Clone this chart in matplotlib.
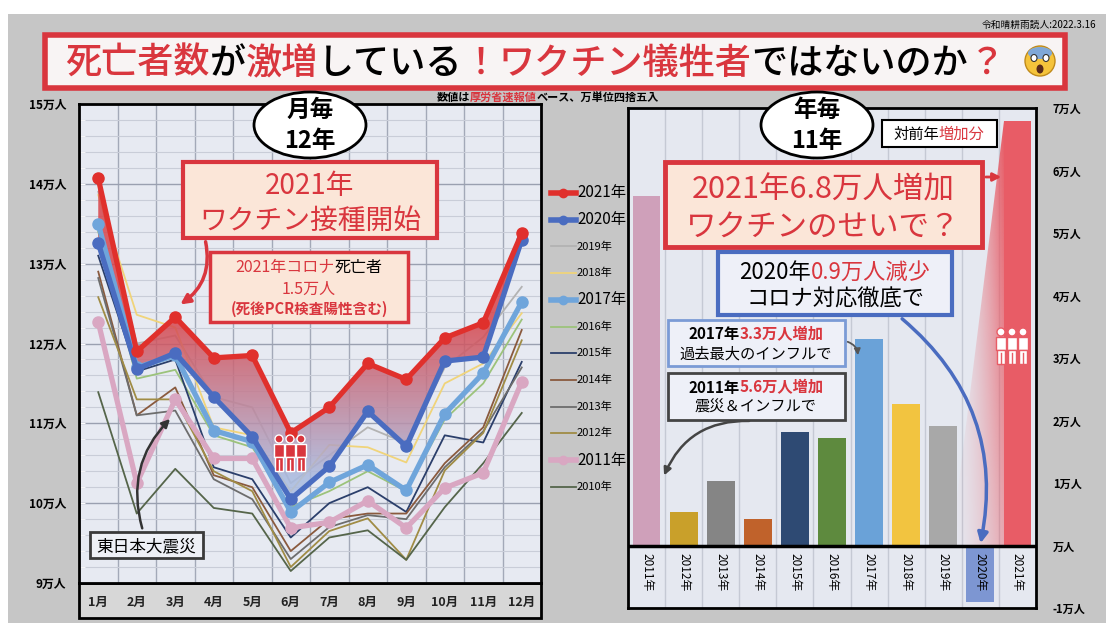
import numpy as np
import matplotlib.pyplot as plt
from matplotlib.patches import Rectangle, Ellipse, Polygon
from matplotlib.lines import Line2D
from matplotlib.colors import to_rgb

plt.rcParams['font.family'] = ['Noto Sans CJK JP', 'DejaVu Sans']

W, H = 1114, 635
RED = '#d9363e'
BLUE = '#4a6cc0'

# 月別死亡者数 (万人)
months = ['1月', '2月', '3月', '4月', '5月', '6月', '7月', '8月', '9月', '10月', '11月', '12月']
d2021 = [14.07, 11.90, 12.33, 11.82, 11.85, 10.88, 11.20, 11.75, 11.55, 12.07, 12.26, 13.38]
d2020 = [13.26, 11.68, 11.88, 11.33, 10.83, 10.05, 10.46, 11.15, 10.71, 11.78, 11.83, 13.30]
d2019 = [13.90, 12.00, 12.10, 11.33, 11.20, 10.25, 10.60, 10.95, 10.75, 11.70, 12.08, 12.71]
d2018 = [13.86, 12.36, 12.20, 10.95, 10.85, 10.15, 10.73, 10.70, 10.51, 11.50, 11.75, 12.38]
d2017 = [13.50, 11.70, 11.85, 10.91, 10.77, 9.89, 10.26, 10.48, 10.16, 11.12, 11.63, 12.52]
d2016 = [13.40, 11.56, 11.67, 10.85, 10.70, 9.95, 10.15, 10.40, 10.15, 11.05, 11.50, 12.30]
d2015 = [13.10, 11.65, 11.80, 10.45, 10.30, 9.57, 10.00, 10.20, 9.89, 10.85, 10.76, 11.77]
d2014 = [12.90, 11.10, 11.45, 10.35, 10.20, 9.40, 9.80, 9.87, 9.87, 10.50, 10.95, 12.17]
d2013 = [12.82, 11.10, 11.16, 10.30, 10.05, 9.30, 9.70, 9.85, 9.80, 10.45, 10.90, 11.70]
d2012 = [12.58, 11.30, 11.30, 10.40, 10.15, 9.20, 9.65, 9.81, 9.29, 10.41, 10.88, 12.04]
d2011 = [12.27, 10.25, 11.30, 10.56, 10.56, 9.69, 9.76, 10.03, 9.69, 10.19, 10.38, 11.52]
d2010 = [11.39, 9.87, 10.43, 9.94, 9.87, 9.15, 9.57, 9.66, 9.29, 9.95, 10.50, 11.13]
left_ticks = [9, 10, 11, 12, 13, 14, 15]

# 対前年増加分 (万人)
bar_years = ['2011年', '2012年', '2013年', '2014年', '2015年', '2016年',
             '2017年', '2018年', '2019年', '2020年', '2021年']
increase = [5.6, 0.53, 1.04, 0.43, 1.81, 1.72, 3.3, 2.26, 1.91, -0.9, 6.8]
bar_colors = ['#cfa0ba', '#c9a02a', '#858585', '#c0622b', '#2e4a73', '#5e8a3e',
              '#6aa2d8', '#f2c440', '#a8a8a8', '#7d96d2', '#e85c66']
right_ticks = [-1, 0, 1, 2, 3, 4, 5, 6, 7]
right_labels = ['-1万人', '万人', '1万人', '2万人', '3万人', '4万人', '5万人', '6万人', '7万人']


def fx(x):
    return x / W


def fy(y):
    return 1 - y / H


fig = plt.figure(figsize=(W / 100, H / 100), dpi=100)
fig.patch.set_facecolor('white')
renderer = fig.canvas.get_renderer()


def box(x0, y0, x1, y1, fc, ec, lw, z=4):
    fig.add_artist(Rectangle((fx(x0), fy(y1)), (x1 - x0) / W, (y1 - y0) / H,
                             transform=fig.transFigure, fc=fc, ec=ec, lw=lw, zorder=z))


def rich(xc, yc, parts, size, weight='normal', ha='center'):
    base = yc + 0.36 * size * 100 / 72
    ts = [fig.text(0, fy(base), s, color=c, fontsize=size, fontweight=weight,
                   va='baseline', ha='left', zorder=8) for s, c in parts]
    ws = [t.get_window_extent(renderer).width for t in ts]
    x = xc - sum(ws) / 2 if ha == 'center' else xc
    for t, w in zip(ts, ws):
        t.set_x(x / W)
        x += w


def people(cx, cy, face, edge, s=1.0):
    for dx in (-11, 0, 11):
        x = cx + dx * s
        fig.add_artist(Ellipse((fx(x), fy(cy - 13 * s)), 8 * s / W, 8 * s / H,
                               transform=fig.transFigure, fc=face, ec=edge, lw=1, zorder=7))
        box(x - 5 * s, cy - 8 * s, x + 5 * s, cy + 5 * s, face, edge, 1, z=7)
        box(x - 4 * s, cy + 5 * s, x + 4 * s, cy + 19 * s, face, edge, 1, z=7)
        fig.add_artist(Line2D([fx(x), fx(x)], [fy(cy + 8 * s), fy(cy + 19 * s)],
                              transform=fig.transFigure, color=edge, lw=1, zorder=7))


# 背景
box(8, 14, 1106, 623, '#c6c6c6', 'none', 0, z=-2)

# ---------------- 左: 月毎 ----------------
ax1 = fig.add_axes([fx(79), fy(583), (541 - 79) / W, (583 - 104) / H])
ax1.set_facecolor('#e7eaf2')
x = np.arange(1, 13)
ax1.set_xlim(0.5, 12.5)
ax1.set_ylim(9, 15)
ax1.set_yticks(left_ticks)
ax1.set_yticklabels([f'{v}万人' for v in left_ticks], fontsize=8.5, fontweight='bold')
ax1.set_yticks(np.arange(9, 15.01, 0.2), minor=True)
ax1.grid(axis='y', which='minor', color='#c9cdd8', lw=0.8)
ax1.grid(axis='y', which='major', color='#9aa0b0', lw=1.0)
ax1.vlines(np.arange(1.5, 12.5), 9, 15, color='#a3a9b8', lw=1.0, zorder=0.5)
ax1.set_xticks(x)
ax1.set_xticklabels(months, fontsize=9, fontweight='bold', color='#222222')
ax1.tick_params(axis='x', length=0, pad=9)
ax1.tick_params(axis='y', which='both', direction='in', length=4, color='white', pad=9)
for sp in ax1.spines.values():
    sp.set_color('black')
    sp.set_linewidth(2)
box(79, 583, 541, 618, '#d7d7d7', 'black', 2, z=-1)

thin = [('2019年', d2019, '#b3b3b3'), ('2018年', d2018, '#f0d47a'),
        ('2016年', d2016, '#9cc37b'), ('2015年', d2015, '#2b3f6b'),
        ('2014年', d2014, '#8a5a3e'), ('2013年', d2013, '#6d6d6d'),
        ('2012年', d2012, '#a08c45'), ('2010年', d2010, '#55654a')]
for lab, vals, col in thin:
    ax1.plot(x, vals, color=col, lw=1.3, zorder=2)

# 2021年と2020年の間のグラデーション
poly = ax1.fill_between(x, d2021, d2020, color='none', zorder=3)
ys = np.linspace(9.9, 14.1, 200)
t = np.clip((ys - 10.3) / (12.3 - 10.3), 0, 1)[:, None]
grad = np.zeros((200, 2, 4))
grad[:, :, :3] = (np.array(to_rgb('#a9bbe0')) * (1 - t) + np.array(to_rgb('#d8444a')) * t)[:, None, :]
grad[:, :, 3] = 0.85
img = ax1.imshow(grad, extent=[1, 12, 9.9, 14.1], origin='lower', aspect='auto', zorder=3)
img.set_clip_path(poly.get_paths()[0], transform=ax1.transData)
ax1.set_xlim(0.5, 12.5)
ax1.set_ylim(9, 15)

thick = [('2011年', d2011, '#d9a7c2'), ('2017年', d2017, '#6fa5db'),
         ('2020年', d2020, '#4a6cc0'), ('2021年', d2021, '#e0302c')]
for lab, vals, col in thick:
    ax1.plot(x, vals, color=col, lw=3.8, marker='o', ms=8, zorder=4)

# 凡例
legend_rows = [('2021年', '#e0302c', True), ('2020年', '#4a6cc0', True), ('2019年', '#b3b3b3', False),
               ('2018年', '#f0d47a', False), ('2017年', '#6fa5db', True), ('2016年', '#9cc37b', False),
               ('2015年', '#2b3f6b', False), ('2014年', '#8a5a3e', False), ('2013年', '#6d6d6d', False),
               ('2012年', '#a08c45', False), ('2011年', '#d9a7c2', True), ('2010年', '#55654a', False)]
for i, (lab, col, big) in enumerate(legend_rows):
    yy = 193 + 26.7 * i
    fig.add_artist(Line2D([fx(551), fx(563), fx(576)], [fy(yy)] * 3, transform=fig.transFigure,
                          color=col, lw=4 if big else 1.3, marker='o' if big else None,
                          ms=6, markevery=[1], zorder=5))
    fig.text(fx(577), fy(yy), lab, fontsize=11 if big else 8, va='center', ha='left', zorder=5)

# 左の注釈
fig.add_artist(Ellipse((fx(310), fy(125)), 112 / W, 66 / H, transform=fig.transFigure,
                       fc='white', ec='black', lw=2, zorder=6))
rich(310, 108, [('月毎', 'black')], 17, 'bold')
rich(310, 140, [('12年', 'black')], 17, 'bold')

box(183, 162, 437, 238, '#fbe6d8', RED, 3)
rich(310, 184, [('2021年', RED)], 20)
rich(310, 219, [('ワクチン接種開始', RED)], 20)

box(210, 252, 408, 322, '#fbe6d8', RED, 2.5)
rich(309, 266, [('2021年コロナ', RED), ('死亡者', 'black')], 11.5)
rich(309, 288, [('1.5万人', RED)], 11.5)
rich(309, 309, [('(死後PCR検査陽性含む)', RED)], 10.5, 'bold')

box(90, 532, 203, 558, '#eef0f6', '#3a3a3a', 2)
rich(146, 545, [('東日本大震災', 'black')], 12)

ax1.annotate('', xy=(178, H - 306), xytext=(205, H - 239), xycoords='figure pixels',
             textcoords='figure pixels', zorder=9,
             arrowprops=dict(arrowstyle='-|>', color=RED, lw=2.5, mutation_scale=14,
                             connectionstyle='arc3,rad=-0.35'))
ax1.annotate('', xy=(172, H - 417), xytext=(143, H - 531), xycoords='figure pixels',
             textcoords='figure pixels', zorder=9,
             arrowprops=dict(arrowstyle='-|>', color='#333333', lw=1.8, mutation_scale=12,
                             connectionstyle='arc3,rad=-0.3'))
people(290, 452, RED, 'white', 1.0)

# ---------------- 右: 年毎 ----------------
ax2 = fig.add_axes([fx(628), fy(608), 408 / W, 500 / H])
ax2.set_facecolor('#e5e8f0')
bx = np.arange(len(bar_years))
ax2.set_xlim(-0.5, 10.5)
ax2.set_ylim(-1, 7)
ax2.vlines(bx[:-1] + 0.5, -1, 7, color='#c5c9d4', lw=1, zorder=0.5)

# 2021年バーへのグラデーション
gx = np.linspace(8.2, 9.625, 100)
gy = np.linspace(0, 6.8, 100)
ga = np.clip((gx - 8.2) / 1.425, 0, 1)[None, :] ** 1.6 * (0.45 + 0.55 * gy[:, None] / 6.8)
wedge = np.zeros((100, 100, 4))
wedge[:, :, :3] = to_rgb('#e85c66')
wedge[:, :, 3] = ga
wimg = ax2.imshow(wedge, extent=[8.2, 9.625, 0, 6.8], origin='lower', aspect='auto', zorder=1)
wpoly = Polygon([(9.625, increase[-1]), (9.625, 0), (8.2, 0)], closed=True,
                transform=ax2.transData, fc='none', ec='none')
ax2.add_patch(wpoly)
wimg.set_clip_path(wpoly)
ax2.set_xlim(-0.5, 10.5)
ax2.set_ylim(-1, 7)

ax2.bar(bx, increase, width=0.75, color=bar_colors, zorder=2)
ax2.axhline(0, color='black', lw=2.5, zorder=3)
for i, lab in enumerate(bar_years):
    ax2.text(i, -0.12, lab, rotation=-90, ha='center', va='top', fontsize=8.5, zorder=4)
ax2.set_xticks([])
ax2.yaxis.tick_right()
ax2.set_yticks(right_ticks)
ax2.set_yticklabels(right_labels, fontsize=8, fontweight='bold')
ax2.tick_params(axis='y', length=0, pad=12)
for sp in ax2.spines.values():
    sp.set_color('black')
    sp.set_linewidth(2)

fig.add_artist(Ellipse((fx(817), fy(125)), 112 / W, 66 / H, transform=fig.transFigure,
                       fc='white', ec='black', lw=2, zorder=6))
rich(817, 108, [('年毎', 'black')], 17, 'bold')
rich(817, 140, [('11年', 'black')], 17, 'bold')

box(882, 120, 997, 147, 'white', 'black', 1.5)
rich(939, 133, [('対前年', 'black'), ('増加分', RED)], 11)

box(665, 162, 982, 247, '#fbe6d8', RED, 3.5)
rich(823, 188, [('2021年6.8万人増加', RED)], 22)
rich(823, 225, [('ワクチンのせいで？', RED)], 22)

box(718, 252, 952, 315, '#eef0f8', BLUE, 3)
rich(835, 271, [('2020年', 'black'), ('0.9万人減少', RED)], 16)
rich(835, 298, [('コロナ対応徹底で', 'black')], 16)

box(668, 320, 845, 366, '#eef0f8', '#7b9bd6', 2)
rich(756, 334, [('2017年', 'black'), ('3.3万人増加', RED)], 11, 'bold')
rich(756, 353, [('過去最大のインフルで', 'black')], 11)

box(668, 373, 845, 420, '#eef0f8', '#444444', 2)
rich(756, 387, [('2011年', 'black'), ('5.6万人増加', RED)], 11, 'bold')
rich(756, 406, [('震災＆インフルで', 'black')], 11)

ax2.annotate('', xy=(1004, H - 177), xytext=(983, H - 177), xycoords='figure pixels',
             textcoords='figure pixels', zorder=9,
             arrowprops=dict(arrowstyle='-|>', color=RED, lw=2, mutation_scale=12))
ax2.annotate('', xy=(980, H - 546), xytext=(900, H - 317), xycoords='figure pixels',
             textcoords='figure pixels', zorder=9,
             arrowprops=dict(arrowstyle='-|>', color=BLUE, lw=2.5, mutation_scale=15,
                             connectionstyle='arc3,rad=-0.3'))
ax2.annotate('', xy=(858, H - 358), xytext=(845, H - 341), xycoords='figure pixels',
             textcoords='figure pixels', zorder=9,
             arrowprops=dict(arrowstyle='-|>', color='#555555', lw=1.3, mutation_scale=9,
                             connectionstyle='arc3,rad=-0.4'))
ax2.annotate('', xy=(663, H - 478), xytext=(752, H - 421), xycoords='figure pixels',
             textcoords='figure pixels', zorder=9,
             arrowprops=dict(arrowstyle='-|>', color='#444444', lw=1.8, mutation_scale=11,
                             connectionstyle='arc3,rad=0.35'))
people(1012, 345, 'white', '#e85c66', 1.0)

# ---------------- タイトル ----------------
fig.text(fx(1096), fy(25), '令和晴耕雨読人:2022.3.16', fontsize=7, ha='right', va='center')
box(45, 35, 1065, 88, '#f8f4f4', RED, 4)
rich(535, 61, [('死亡者数', RED), ('が', 'black'), ('激増', RED), ('している', 'black'),
               ('！', RED), ('ワクチン犠牲者', RED), ('ではないのか', 'black'), ('？', RED)],
     26, 'medium')
fig.add_artist(Ellipse((fx(1040), fy(61)), 30 / W, 30 / H, transform=fig.transFigure,
                       fc='#f5c33b', ec='#c08a1a', lw=1, zorder=7))
fig.add_artist(Ellipse((fx(1040), fy(53)), 24 / W, 12 / H, transform=fig.transFigure,
                       fc='#7fa8d8', ec='none', zorder=7))
for ex in (1034, 1046):
    fig.add_artist(Ellipse((fx(ex), fy(58)), 6 / W, 7 / H, transform=fig.transFigure,
                           fc='white', ec='#333333', lw=0.8, zorder=8))
fig.add_artist(Ellipse((fx(1040), fy(69)), 7 / W, 9 / H, transform=fig.transFigure,
                       fc='#5a2a1a', ec='none', zorder=8))
rich(548, 97, [('数値は', 'black'), ('厚労省速報値', RED), ('ベース、万単位四捨五入', 'black')], 8, 'bold')

fig.savefig('out.png', dpi=100)
